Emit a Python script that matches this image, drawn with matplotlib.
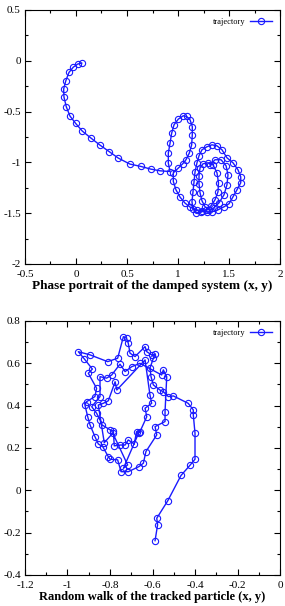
import matplotlib
matplotlib.use("Agg")
import matplotlib.pyplot as plt
from matplotlib.ticker import MultipleLocator, FuncFormatter

# top panel: damped spiral trajectory
top_x = [0.056, 0.017, -0.026, -0.069, -0.101, -0.121, -0.118, -0.095, -0.059, -0.003,
         0.062, 0.147, 0.235, 0.324, 0.415, 0.529, 0.637, 0.732, 0.824, 0.922,
         0.905, 0.905, 0.922, 0.938, 0.961, 1.003, 1.052, 1.085, 1.118, 1.140,
         1.140, 1.134, 1.111, 1.078, 1.046, 1.003, 0.954, 0.954, 0.980, 1.020,
         1.069, 1.118, 1.183, 1.232, 1.284, 1.333, 1.392, 1.451, 1.500, 1.539,
         1.578, 1.615, 1.615, 1.588, 1.539, 1.480, 1.431, 1.382, 1.333, 1.284,
         1.235, 1.206, 1.186, 1.167, 1.157, 1.147, 1.137, 1.147, 1.176, 1.225,
         1.275, 1.324, 1.363, 1.392, 1.397, 1.382, 1.343, 1.294, 1.245, 1.216,
         1.206, 1.206, 1.216, 1.235, 1.265, 1.304, 1.353, 1.402, 1.451, 1.480,
         1.490, 1.471, 1.422, 1.363, 1.314]
top_y = [-0.023, -0.032, -0.062, -0.115, -0.200, -0.279, -0.357, -0.453, -0.544, -0.617,
         -0.692, -0.761, -0.830, -0.893, -0.958, -1.017, -1.040, -1.066, -1.083, -1.090,
         -1.007, -0.908, -0.810, -0.712, -0.630, -0.574, -0.541, -0.548, -0.581, -0.647,
         -0.728, -0.827, -0.908, -0.974, -1.014, -1.056, -1.102, -1.188, -1.270, -1.342,
         -1.401, -1.440, -1.467, -1.476, -1.486, -1.486, -1.467, -1.437, -1.407, -1.339,
         -1.270, -1.201, -1.142, -1.073, -1.004, -0.955, -0.876, -0.837, -0.827, -0.846,
         -0.876, -0.935, -1.004, -1.093, -1.191, -1.289, -1.388, -1.457, -1.496, -1.491,
         -1.467, -1.427, -1.368, -1.289, -1.201, -1.102, -1.024, -1.004, -1.014, -1.053,
         -1.132, -1.211, -1.299, -1.378, -1.437, -1.467, -1.447, -1.398, -1.319, -1.220,
         -1.122, -1.033, -0.974, -0.974, -1.024]

# bottom panel: noisy loop trajectory
bot_x = [-0.588, -0.576, -0.580, -0.528, -0.466, -0.424, -0.400, -0.400, -0.408, -0.408,
         -0.432, -0.502, -0.526, -0.549, -0.565, -0.596, -0.607, -0.612, -0.596, -0.588,
         -0.604, -0.627, -0.635, -0.682, -0.706, -0.714, -0.722, -0.737, -0.764, -0.811,
         -0.894, -0.949, -0.921, -0.883, -0.902, -0.863, -0.871, -0.910, -0.918, -0.905,
         -0.894, -0.871, -0.855, -0.834, -0.808, -0.800, -0.764, -0.748, -0.714, -0.664,
         -0.643, -0.631, -0.580, -0.588, -0.541, -0.541, -0.533, -0.549, -0.557, -0.659,
         -0.698, -0.729, -0.753, -0.792, -0.816, -0.847, -0.847, -0.886, -0.863, -0.847,
         -0.839, -0.800, -0.784, -0.780, -0.753, -0.729, -0.714, -0.686, -0.675, -0.659,
         -0.627, -0.635, -0.604, -0.612, -0.635, -0.768, -0.776, -0.808, -0.832, -0.855,
         -0.827, -0.787, -0.717, -0.737, -0.664]
bot_y = [-0.238, -0.163, -0.132, -0.049, 0.070, 0.118, 0.147, 0.270, 0.356, 0.380,
         0.411, 0.446, 0.443, 0.466, 0.474, 0.498, 0.537, 0.577, 0.624, 0.643,
         0.640, 0.655, 0.679, 0.632, 0.648, 0.695, 0.718, 0.726, 0.624, 0.608,
         0.640, 0.655, 0.621, 0.573, 0.553, 0.482, 0.443, 0.419, 0.403, 0.348,
         0.309, 0.254, 0.219, 0.206, 0.159, 0.147, 0.144, 0.088, 0.088, 0.112,
         0.128, 0.183, 0.262, 0.301, 0.325, 0.372, 0.537, 0.569, 0.545, 0.600,
         0.584, 0.561, 0.596, 0.545, 0.530, 0.537, 0.443, 0.395, 0.364, 0.333,
         0.310, 0.286, 0.278, 0.210, 0.214, 0.214, 0.238, 0.219, 0.277, 0.277,
         0.348, 0.388, 0.411, 0.451, 0.616, 0.474, 0.513, 0.423, 0.411, 0.403,
         0.225, 0.270, 0.120, 0.104, 0.273]

legend_label = "trajectory"
top_xlabel = "Phase portrait of the damped system (x, y)"
bot_xlabel = "Random walk of the tracked particle (x, y)"

plt.rcParams['font.family'] = ['Liberation Serif', 'DejaVu Serif']
blue = '#1a1aff'

fig = plt.figure(figsize=(2.85, 6.06), dpi=100)
ax1 = fig.add_axes([0.0877, 0.5644, 0.8948, 0.4191])
ax2 = fig.add_axes([0.0877, 0.0512, 0.8948, 0.4191])

fmt = FuncFormatter(lambda v, p: '%g' % round(v, 6) if abs(v) > 1e-9 else '0')


def style(ax, xlim, ylim, xmaj, ymaj):
    ax.set_xlim(*xlim)
    ax.set_ylim(*ylim)
    ax.xaxis.set_major_locator(MultipleLocator(xmaj))
    ax.yaxis.set_major_locator(MultipleLocator(ymaj))
    ax.xaxis.set_minor_locator(MultipleLocator(xmaj / 2))
    ax.yaxis.set_minor_locator(MultipleLocator(ymaj / 2))
    ax.xaxis.set_major_formatter(fmt)
    ax.yaxis.set_major_formatter(fmt)
    ax.tick_params(which='both', direction='in', top=True, right=True,
                   labelsize=8, width=0.8)
    ax.tick_params(axis='x', pad=4)
    ax.tick_params(axis='y', pad=3)
    ax.tick_params(which='major', length=4)
    ax.tick_params(which='minor', length=2)
    for s in ax.spines.values():
        s.set_linewidth(0.8)


ax1.plot(top_x, top_y, color=blue, lw=1, marker='o', ms=4.5, mfc='none',
         mew=0.8, label=legend_label)
style(ax1, (-0.5, 2.0), (-2.0, 0.5), 0.5, 0.5)
ax1.set_xlabel(top_xlabel, fontsize=9.5, fontweight='bold', labelpad=1)

ax2.plot(bot_x, bot_y, color=blue, lw=1, marker='o', ms=4.5, mfc='none',
         mew=0.8, label=legend_label)
style(ax2, (-1.2, 0.0), (-0.4, 0.8), 0.2, 0.2)
ax2.set_xlabel(bot_xlabel, fontsize=9, fontweight='bold', labelpad=1)

for ax in (ax1, ax2):
    ax.legend(loc='upper right', frameon=False, fontsize=6, markerfirst=False,
              handlelength=2.6, borderaxespad=0.6, handletextpad=0.6)

fig.savefig('out.png', dpi=100)
